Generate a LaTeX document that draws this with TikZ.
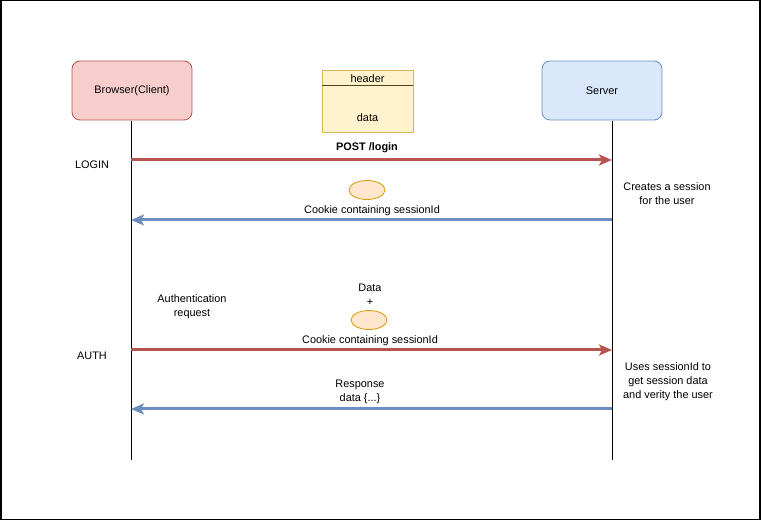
\documentclass[tikz,border=0pt]{standalone}
\usepackage{fontspec}
\setmainfont{Liberation Sans}
\usetikzlibrary{arrows.meta,shapes.geometric}
\definecolor{redF}{HTML}{F8CECC}\definecolor{redD}{HTML}{B85450}
\definecolor{blueF}{HTML}{DAE8FC}\definecolor{blueD}{HTML}{6C8EBF}
\definecolor{yelF}{HTML}{FFF2CC}\definecolor{yelD}{HTML}{D6B656}
\definecolor{orF}{HTML}{FFE6CC}\definecolor{orD}{HTML}{D79B00}
\tikzset{
  actor/.style={draw, rounded corners=8pt, minimum width=120pt, minimum height=59pt, inner sep=0pt, line width=0.8pt},
  lbl/.style={font=\fontsize{10.9}{14}\selectfont, align=center, inner sep=0pt, yshift=-1.2pt},
  cookie/.style={ellipse, draw=orD, fill=orF, minimum width=36pt, minimum height=19pt, inner sep=0pt, line width=0.8pt},
  life/.style={line width=0.9pt},
  reqarrow/.style={draw=redD, line width=3pt, -{Stealth[length=13pt, width=11pt, inset=3pt]}},
  resarrow/.style={draw=blueD, line width=3pt, -{Stealth[length=13pt, width=11pt, inset=3pt]}}
}
\begin{document}
\begin{tikzpicture}[x=1pt,y=-1pt]
\useasboundingbox (0,0) rectangle (761,521);
\draw[line width=1.5pt] (0.75,0.75) rectangle (760,519.5);
% actors
\node[actor, fill=redF, draw=redD, lbl, yshift=1.2pt] (browser) at (132,90.5) {Browser(Client)};
\node[actor, fill=blueF, draw=blueD, lbl, yshift=1.2pt] (server) at (602,90.5) {Server};
\coordinate (bEnd) at (131,460);
\coordinate (sEnd) at (612,460);
\coordinate (bTop) at (131,121);
\coordinate (sTop) at (612,121);
\draw[life] (bTop) -- (bEnd);
\draw[life] (sTop) -- (sEnd);
% packet
\node[draw=yelD, fill=yelF, minimum width=91pt, minimum height=62pt, inner sep=0pt, line width=0.8pt] (packet) at (367.5,101) {};
\coordinate (hl) at (322,85.5);
\coordinate (hr) at (413,85.5);
\draw[line width=1.8pt, draw=black!65!yelD] (hl) -- (hr);
\node[lbl] (hdr) at (367.5,77.5) {header};
\node[lbl] (dat) at (367.5,116) {data};
% login
\node[lbl, font=\fontsize{10.9}{14}\selectfont\bfseries] (post) at (367,147) {POST /login};
\node[lbl] (login) at (92,164) {LOGIN};
\coordinate (l1s) at (131,160);
\coordinate (l1e) at (612,160);
\draw[reqarrow] (l1s) -- (l1e);
\node[cookie] (c1) at (367,190) {};
\node[lbl] (c1t) at (372,209) {Cookie containing sessionId};
\coordinate (r1s) at (612,220);
\coordinate (r1e) at (131,220);
\draw[resarrow] (r1s) -- (r1e);
\node[lbl] (create) at (667,192) {Creates a session\\for the user};
% auth
\node[lbl] (authreq) at (192,305) {Authentication\\request};
\node[lbl] (data) at (370,287) {Data};
\node[lbl] (plus) at (370,301) {+};
\node[cookie] (c2) at (369,320) {};
\node[lbl] (c2t) at (370,339) {Cookie containing sessionId};
\node[lbl] (auth) at (92,355) {AUTH};
\coordinate (l2s) at (131,350);
\coordinate (l2e) at (612,350);
\draw[reqarrow] (l2s) -- (l2e);
\node[lbl] (uses) at (668,380) {Uses sessionId to\\get session data\\and verity the user};
\node[lbl] (resp) at (360,391) {Response\\data \{...\}};
\coordinate (r2s) at (612,409);
\coordinate (r2e) at (131,409);
\draw[resarrow] (r2s) -- (r2e);
\end{tikzpicture}
\end{document}
